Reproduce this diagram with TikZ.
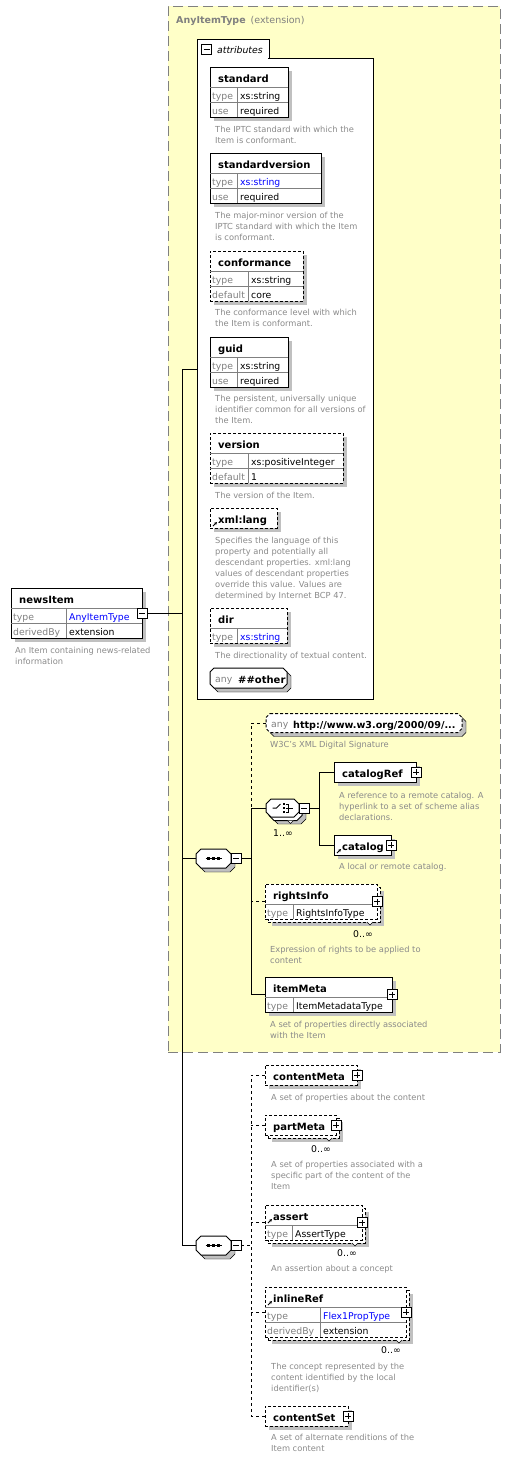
\documentclass[tikz,border=0pt]{standalone}
\usepackage{fontspec}
\setmainfont{DejaVu Sans}
\usetikzlibrary{calc, arrows.meta}
\definecolor{Paper}{HTML}{FFFFC8}
\definecolor{Frame}{HTML}{808080}
\definecolor{Shadow}{HTML}{C0C0C0}
\definecolor{Note}{HTML}{8A8A8A}
\definecolor{Link}{HTML}{0000FF}

\tikzset{
  extframe/.style={draw=Frame, fill=Paper, line width=1pt, dash pattern=on 10pt off 5pt, inner sep=0, outer sep=0, anchor=north west},
  box/.style={draw, fill=white, line width=1pt, inner sep=0, outer sep=0, anchor=north west},
  optbox/.style={box, dash pattern=on 3pt off 2pt},
  drop/.style={fill=Shadow},
  cell/.style={draw=Frame, line width=1pt},
  pbox/.style={draw, fill=white, line width=1pt, minimum size=10, inner sep=0, outer sep=0},
  octa/.style={draw, fill=white, line width=1pt},
  optocta/.style={octa, dash pattern=on 3pt off 2pt},
  conn/.style={line width=1pt},
  optconn/.style={line width=1pt, dash pattern=on 3pt off 3pt},
  ttl/.style={font=\fontsize{10}{12}\selectfont\bfseries, anchor=base west, inner sep=0},
  lbl/.style={font=\fontsize{9.3}{11}\selectfont, text=Frame, anchor=base west, inner sep=0},
  val/.style={font=\fontsize{9.3}{11}\selectfont, anchor=base west, inner sep=0},
  desc/.style={font=\fontsize{8.3}{11}\selectfont, text=Note, align=left, anchor=north west, inner sep=0},
  mult/.style={font=\fontsize{9.3}{11}\selectfont, anchor=base west, inner sep=0},
}

% element box with drop shadow
\newcommand\xelem[6]{%
  \fill[drop] (#3+4,#4+4) rectangle ++(#5,#6);
  \node[#2, minimum width=#5, minimum height=#6] (#1) at (#3,#4) {};
}
% element that may repeat
\newcommand\xmulti[6]{%
  \fill[drop] (#3+7,#4+7) rectangle ++(#5,#6);
  \node[#2, minimum width=#5, minimum height=#6] (#1-back) at (#3+3,#4+3) {};
  \node[#2, minimum width=#5, minimum height=#6] (#1) at (#3,#4) {};
  \draw[fill=white, line width=0.6pt] ($(#1-back.south east)+(-13,0)$) -- ++(3,3) -- ++(3,-3);
}
% cut-corner outline: name, style, west x, centre y, width, height, cut
\newcommand\xocta[7]{%
  \node[box, draw=none, fill=none, anchor=west, minimum width=#5, minimum height=#6] (#1) at (#3,#4) {};
  \draw[#2] ($(#1.north west)+(#7,0)$) -- ($(#1.north east)+(-#7,0)$) -- ($(#1.north east)+(0,#7)$)
    -- ($(#1.south east)+(0,-#7)$) -- ($(#1.south east)+(-#7,0)$) -- ($(#1.south west)+(#7,0)$)
    -- ($(#1.south west)+(0,-#7)$) -- ($(#1.north west)+(0,#7)$) -- cycle;
}
\newcommand\xtitle[2]{\node[ttl] (#1-t) at ($(#1.north west)+(8,15)$) {#2};}
\newcommand\xrow[5]{%
  \draw[cell] ($(#1.north west)+(0,5+15*#2)$) -- ($(#1.north east)+(0,5+15*#2)$);
  \draw[cell] ($(#1.north west)+(#3,5+15*#2)$) -- ++(0,15);
  \node[lbl] (#1-l#2) at ($(#1.north west)+(2,17.5+15*#2)$) {#4};
  \node[val] (#1-v#2) at ($(#1.north west)+(#3+3,17.5+15*#2)$) {#5};
}
\newcommand\xrefmark[1]{%
  \draw[line width=0.8pt, -{Stealth[length=3pt,width=3pt]}] ($(#1.north west)+(3,18)$) -- ($(#1.north west)+(7,14)$);}
\newcommand\xplus[2]{%
  \node[pbox] (#1) at (#2) {};
  \draw[line width=1pt] ($(#1.center)+(-3,0)$) -- ($(#1.center)+(3,0)$) ($(#1.center)+(0,-3)$) -- ($(#1.center)+(0,3)$);}
\newcommand\xminus[2]{%
  \node[pbox] (#1) at (#2) {};
  \draw[line width=1pt] ($(#1.center)+(-3,0)$) -- ($(#1.center)+(3,0)$);}
\newcommand\xseq[3]{%
  \xocta{#1-sh}{fill=Shadow}{#2+4}{#3+4}{35}{19}{5}
  \xocta{#1}{octa}{#2}{#3}{35}{19}{5}
  \draw[line width=1pt] ($(#1.center)+(-8,0)$) -- ($(#1.center)+(8,0)$);
  \foreach \d in {-5,0,5} \fill ($(#1.center)+(\d-1.5,-1.5)$) rectangle ++(3,3);
  \xminus{#1-m}{$(#1.east)+(5,0)$}
}

\begin{document}
\begin{tikzpicture}[x=1pt, y=-1pt]
\useasboundingbox (0,0) rectangle (510,1459);

% AnyItemType extension frame
\node[extframe, minimum width=332, minimum height=1046] (anyitem) at (168,6) {};
\node[anchor=base west, inner sep=0, text=Frame, font=\fontsize{9.5}{11}\selectfont] (anyitem-t) at (176,23) {\textbf{AnyItemType}\hspace{2pt} (extension)};

% attributes
\node[box, minimum width=72, minimum height=19] (attrtab) at (197,39) {};
\node[box, minimum width=176, minimum height=641] (attrs) at (197,58) {};
\draw[white, line width=1.2pt] (198,58) -- (268,58);
\xminus{attrtab-m}{206.5,49.5}
\node[val, font=\fontsize{9.3}{11}\selectfont\itshape] (attrtab-t) at (217,53) {attributes};

\xelem{standard}{box}{210}{67}{78}{50}
\xtitle{standard}{standard}
\xrow{standard}{1}{27}{type}{xs:string}
\xrow{standard}{2}{27}{use}{required}
\node[desc] (standard-d) at (215,126) {The IPTC standard with which the\\Item is conformant.};

\xelem{standardversion}{box}{210}{153}{111}{50}
\xtitle{standardversion}{standardversion}
\xrow{standardversion}{1}{27}{type}{\textcolor{Link}{xs:string}}
\xrow{standardversion}{2}{27}{use}{required}
\node[desc] (standardversion-d) at (215,212) {The major-minor version of the\\IPTC standard with which the Item\\is conformant.};

\xelem{conformance}{optbox}{210}{251}{93}{50}
\xtitle{conformance}{conformance}
\xrow{conformance}{1}{38}{type}{xs:string}
\xrow{conformance}{2}{38}{default}{core}
\node[desc] (conformance-d) at (215,309) {The conformance level with which\\the Item is conformant.};

\xelem{guid}{box}{210}{337}{78}{50}
\xtitle{guid}{guid}
\xrow{guid}{1}{27}{type}{xs:string}
\xrow{guid}{2}{27}{use}{required}
\node[desc] (guid-d) at (215,395) {The persistent, universally unique\\identifier common for all versions of\\the Item.};

\xelem{version}{optbox}{210}{433}{133}{50}
\xtitle{version}{version}
\xrow{version}{1}{38}{type}{xs:positiveInteger}
\xrow{version}{2}{38}{default}{1}
\node[desc] (version-d) at (215,492) {The version of the Item.};

\xelem{xmllang}{optbox}{210}{508}{67}{20}
\xtitle{xmllang}{xml:lang}
\xrefmark{xmllang}
\node[desc] (xmllang-d) at (215,537) {Specifies the language of this\\property and potentially all\\descendant properties. xml:lang\\values of descendant properties\\override this value. Values are\\determined by Internet BCP 47.};

\xelem{dir}{optbox}{210}{608}{77}{35}
\xtitle{dir}{dir}
\xrow{dir}{1}{27}{type}{\textcolor{Link}{xs:string}}
\node[desc] (dir-d) at (215,652) {The directionality of textual content.};

\xocta{anyOther-sh}{fill=Shadow}{214}{682}{77}{20}{4}
\xocta{anyOther}{octa}{210}{678}{77}{20}{4}
\node[lbl] (anyOther-l) at (215,682) {any};
\node[ttl] (anyOther-t) at (238,683) {\#\#other};

% newsItem
\xelem{newsItem}{box}{11}{588}{131}{50}
\xtitle{newsItem}{newsItem}
\xrow{newsItem}{1}{55}{type}{\textcolor{Link}{AnyItemType}}
\xrow{newsItem}{2}{55}{derivedBy}{extension}
\xminus{newsItem-m}{newsItem.east}
\node[desc] (newsItem-d) at (15,647) {An Item containing news-related\\information};

% first sequence
\xseq{seqA}{196}{858.5}

\xocta{anyUri-sh}{fill=Shadow}{270}{727}{196}{19}{4}
\xocta{anyUri}{optocta}{266}{723}{196}{19}{4}
\node[lbl] (anyUri-l) at (271,727.5) {any};
\node[ttl, font=\fontsize{9.6}{12}\selectfont\bfseries] (anyUri-t) at (293,728) {http://www.w3.org/2000/09/...};
\node[desc] (anyUri-d) at (270,741) {W3C's XML Digital Signature};

% choice
\xocta{choice-sh}{fill=Shadow}{273}{815}{33}{18}{5}
\xocta{choice-back}{octa}{269}{811.5}{33}{18}{5}
\draw[fill=white, line width=0.6pt] ($(choice-back.south)+(2,0)$) -- ++(3,3) -- ++(3,-3);
\xocta{choice}{octa}{266}{808}{33}{18}{5}
\draw[line width=1pt] ($(choice.center)+(-10,0)$) -- ($(choice.center)+(-6,0)$) -- ($(choice.center)+(-2,-4)$);
\foreach \d in {-4,0,4} \fill ($(choice.center)+(0,\d-1)$) rectangle ++(2.5,2);
\draw[line width=1pt] ($(choice.center)+(3,-4)$) -- ($(choice.center)+(6,-4)$) -- ($(choice.center)+(6,4)$) -- ($(choice.center)+(3,4)$)
  ($(choice.center)+(3,0)$) -- ($(choice.center)+(10,0)$);
\xminus{choice-m}{$(choice.east)+(5,0)$}
\node[mult] (choice-n) at (273,836) {1..∞};

\xelem{catalogRef}{box}{334}{762}{82}{20}
\xtitle{catalogRef}{catalogRef}
\xplus{catalogRef-p}{catalogRef.east}
\node[desc] (catalogRef-d) at (339,792) {A reference to a remote catalog. A\\hyperlink to a set of scheme alias\\declarations.};

\xelem{catalog}{box}{334}{835}{57}{20}
\xtitle{catalog}{catalog}
\xrefmark{catalog}
\xplus{catalog-p}{catalog.east}
\node[desc] (catalog-d) at (339,863) {A local or remote catalog.};

\xmulti{rightsInfo}{optbox}{265}{884}{112}{35}
\xtitle{rightsInfo}{rightsInfo}
\xrow{rightsInfo}{1}{28}{type}{RightsInfoType}
\xplus{rightsInfo-p}{rightsInfo.east}
\node[mult] (rightsInfo-n) at (353,937) {0..∞};
\node[desc] (rightsInfo-d) at (270,946) {Expression of rights to be applied to\\content};

\xelem{itemMeta}{box}{265}{977}{127}{35}
\xtitle{itemMeta}{itemMeta}
\xrow{itemMeta}{1}{28}{type}{ItemMetadataType}
\xplus{itemMeta-p}{itemMeta.east}
\node[desc] (itemMeta-d) at (270,1021) {A set of properties directly associated\\with the Item};

% second sequence
\xseq{seqB}{196}{1245.5}

\xelem{contentMeta}{optbox}{265}{1065}{92}{20}
\xtitle{contentMeta}{contentMeta}
\xplus{contentMeta-p}{contentMeta.east}
\node[desc] (contentMeta-d) at (271,1094) {A set of properties about the content};

\xmulti{partMeta}{optbox}{265}{1115}{71}{20}
\xtitle{partMeta}{partMeta}
\xplus{partMeta-p}{partMeta.east}
\node[mult] (partMeta-n) at (311,1152) {0..∞};
\node[desc] (partMeta-d) at (271,1161) {A set of properties associated with a\\specific part of the content of the\\Item};

\xmulti{assert}{optbox}{265}{1205}{97}{35}
\xtitle{assert}{assert}
\xrefmark{assert}
\xrow{assert}{1}{27}{type}{AssertType}
\xplus{assert-p}{assert.east}
\node[mult] (assert-n) at (337,1256) {0..∞};
\node[desc] (assert-d) at (271,1265) {An assertion about a concept};

\xmulti{inlineRef}{optbox}{265}{1287}{141}{50}
\xtitle{inlineRef}{inlineRef}
\xrefmark{inlineRef}
\xrow{inlineRef}{1}{55}{type}{\textcolor{Link}{Flex1PropType}}
\xrow{inlineRef}{2}{55}{derivedBy}{extension}
\xplus{inlineRef-p}{inlineRef.east}
\node[mult] (inlineRef-n) at (381,1353) {0..∞};
\node[desc] (inlineRef-d) at (271,1363) {The concept represented by the\\content identified by the local\\identifier(s)};

\xelem{contentSet}{optbox}{265}{1406}{83}{20}
\xtitle{contentSet}{contentSet}
\xplus{contentSet-p}{contentSet.east}
\node[desc] (contentSet-d) at (271,1434) {A set of alternate renditions of the\\Item content};

% connectors
\coordinate (trunk) at (182,369);
\coordinate (railA) at (251,0);
\coordinate (railC) at (319,0);
\draw[conn] (newsItem-m.east) -- (newsItem-m.east -| trunk);
\draw[conn] (attrs.west |- trunk) -- (trunk) -- (trunk |- seqB.west) -- (seqB.west);
\draw[conn] (seqA.west) -- (seqA.west -| trunk);

\draw[conn] (seqA-m.east) -- (seqA-m.east -| railA);
\draw[optconn] (anyUri.west) -- (anyUri.west -| railA) -- (choice.west -| railA);
\draw[conn] (choice.west) -- (choice.west -| railA) -- (itemMeta.west -| railA) -- (itemMeta.west);
\draw[optconn] (rightsInfo.west) -- (rightsInfo.west -| railA);
\draw[conn] (choice-m.east) -- (choice-m.east -| railC);
\draw[conn] (catalogRef.west) -- (catalogRef.west -| railC) -- (catalog.west -| railC) -- (catalog.west);

\draw[optconn] (seqB-m.east) -- (seqB-m.east -| railA);
\draw[optconn] (contentMeta.west) -- (contentMeta.west -| railA) -- (contentSet.west -| railA) -- (contentSet.west);
\foreach \n in {partMeta, assert, inlineRef}
  \draw[optconn] (\n.west) -- (\n.west -| railA);
\end{tikzpicture}
\end{document}
